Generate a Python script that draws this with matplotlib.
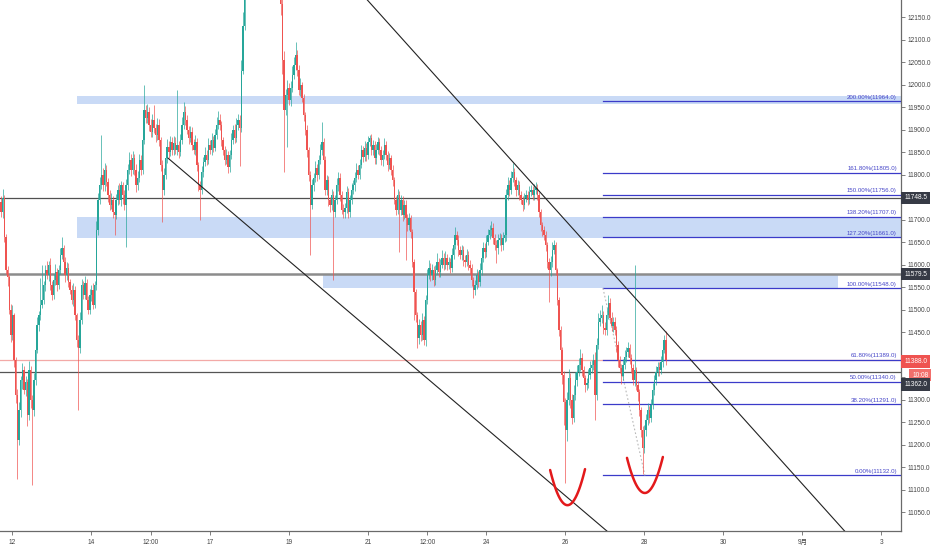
import numpy as np
import matplotlib
matplotlib.use("Agg")
import matplotlib.pyplot as plt
import matplotlib.transforms as mtransforms

plt.rcParams['font.family'] = ['Liberation Sans', 'DejaVu Sans', 'Noto Sans CJK JP']

# ---------------- data (BTC 1h candles, Aug 11 17:00 -> Aug 28 13:00) ----------------
first_open = 11740
closes = [
    11717, 11748, 11662, 11588, 11573, 11500, 11444, 11488, 11388, 11311, 11211, 11277, 11344, 11366, 11322,
    11340, 11266, 11366, 11300, 11277, 11344, 11411, 11466, 11488, 11511, 11522, 11555, 11588, 11577, 11600,
    11555, 11533, 11566, 11584, 11555, 11588, 11622, 11637, 11606, 11577, 11593, 11562, 11544, 11522, 11544,
    11488, 11433, 11415, 11477, 11555, 11533, 11560, 11522, 11500, 11533, 11544, 11511, 11555, 11677, 11744,
    11777, 11800, 11777, 11811, 11784, 11755, 11733, 11744, 11717, 11711, 11744, 11766, 11744, 11777, 11755,
    11733, 11777, 11811, 11833, 11811, 11837, 11811, 11777, 11793, 11833, 11811, 11877, 11944, 11926, 11940,
    11911, 11895, 11922, 11904, 11888, 11911, 11877, 11822, 11766, 11800, 11837, 11862, 11851, 11873, 11855,
    11871, 11855, 11866, 11851, 11877, 11911, 11940, 11922, 11900, 11882, 11895, 11866, 11855, 11873, 11822,
    11777, 11766, 11806, 11828, 11844, 11833, 11866, 11855, 11877, 11860, 11888, 11911, 11922, 11911, 11877,
    11855, 11833, 11844, 11817, 11844, 11877, 11900, 11882, 11911, 11922, 11904, 12031, 12131, 12205, 12260,
    12310, 12290, 12340, 12390, 12360, 12420, 12380, 12340, 12300, 12320, 12280, 12300, 12330, 12290, 12310,
    12270, 12250, 12280, 12240, 12210, 12180, 12055, 11944, 11977, 11993, 11966, 11993, 12022, 12044, 12066,
    12033, 11988, 11999, 11971, 11933, 11900, 11855, 11800, 11733, 11777, 11793, 11815, 11800, 11833, 11855,
    11873, 11833, 11766, 11788, 11744, 11733, 11755, 11717, 11744, 11777, 11793, 11755, 11722, 11717, 11726,
    11762, 11717, 11744, 11766, 11777, 11793, 11811, 11800, 11822, 11855, 11840, 11860, 11844, 11873, 11882,
    11855, 11866, 11837, 11855, 11873, 11855, 11833, 11844, 11866, 11844, 11822, 11837, 11811, 11788, 11744,
    11722, 11755, 11722, 11744, 11711, 11733, 11704, 11688, 11704, 11673, 11606, 11540, 11488, 11437, 11466,
    11444, 11477, 11433, 11522, 11577, 11593, 11577, 11588, 11566, 11588, 11606, 11584, 11600, 11615, 11600,
    11615, 11600, 11606, 11593, 11622, 11644, 11666, 11655, 11633, 11622, 11633, 11611, 11606, 11622, 11600,
    11593, 11566, 11544, 11555, 11577, 11562, 11588, 11615, 11637, 11628, 11651, 11666, 11677, 11682, 11660,
    11644, 11637, 11655, 11660, 11644, 11660, 11666, 11755, 11777, 11766, 11793, 11806, 11788, 11766, 11777,
    11755, 11744, 11733, 11748, 11755, 11744, 11762, 11766, 11755, 11766, 11771, 11755, 11717, 11688, 11677,
    11666, 11644, 11606, 11588, 11606, 11633, 11644, 11588, 11522, 11455, 11411, 11355, 11295, 11233, 11300,
    11348, 11300, 11260, 11311, 11344, 11362, 11377, 11393, 11366, 11348, 11333, 11337, 11355, 11371, 11377,
    11388, 11311, 11422, 11473, 11482, 11488, 11460, 11455, 11488, 11515, 11482, 11464, 11473, 11455, 11422,
    11388, 11371, 11353, 11377, 11395, 11406, 11415, 11393, 11371, 11344, 11366, 11333, 11317, 11277, 11233,
    11193, 11233, 11255, 11277, 11260, 11288, 11322, 11344, 11362, 11373, 11366, 11384, 11411, 11433, 11388,
]
upper_wick = [
    12, 20, 8, 6, 10, 5, 14, 22, 6, 8, 12, 18, 10, 15, 9,
    14, 7, 20, 9, 11, 16, 12, 18, 10, 60, 14, 9, 12, 20, 8,
    15, 10, 13, 18, 9, 12, 16, 20, 8, 11, 14, 10, 7, 12, 15,
    9, 6, 12, 18, 14, 10, 15, 8, 9, 13, 11, 16, 10, 20, 15,
    18, 25, 14, 16, 10, 8, 12, 15, 9, 11, 14, 12, 16, 10, 8,
    11, 14, 12, 18, 13, 15, 10, 12, 16, 14, 11, 20, 15, 12, 18,
    10, 14, 12, 25, 9, 16, 12, 8, 10, 15, 13, 18, 12, 14, 11,
    16, 12, 20, 10, 14, 18, 22, 12, 10, 9, 14, 11, 13, 16, 8,
    6, 10, 14, 12, 18, 11, 15, 12, 16, 10, 14, 18, 20, 12, 9,
    8, 10, 14, 9, 12, 16, 10, 12, 15, 13, 10, 25, 30, 20, 25,
    30, 20, 25, 30, 20, 35, 25, 20, 22, 25, 20, 24, 22, 25, 20,
    22, 25, 20, 24, 22, 18, 10, 20, 14, 18, 12, 15, 20, 18, 14,
    12, 10, 16, 8, 9, 7, 10, 6, 8, 14, 12, 16, 10, 12, 14,
    18, 9, 8, 12, 10, 7, 14, 9, 12, 15, 13, 10, 8, 12, 11,
    14, 9, 12, 15, 11, 13, 16, 10, 14, 12, 9, 15, 11, 14, 10,
    8, 12, 10, 14, 12, 9, 8, 12, 15, 10, 9, 12, 8, 10, 7,
    9, 14, 10, 12, 8, 12, 10, 9, 12, 7, 6, 8, 6, 8, 14,
    10, 16, 9, 12, 14, 18, 10, 13, 9, 12, 20, 10, 14, 18, 12,
    15, 10, 12, 9, 16, 14, 18, 10, 12, 9, 11, 8, 10, 13, 9,
    10, 8, 6, 12, 14, 10, 15, 18, 14, 12, 16, 14, 12, 16, 10,
    8, 12, 14, 10, 9, 12, 16, 14, 18, 12, 16, 20, 10, 8, 12,
    9, 10, 8, 12, 11, 9, 13, 12, 10, 14, 12, 9, 6, 8, 7,
    9, 8, 7, 10, 14, 18, 12, 6, 5, 6, 8, 7, 9, 10, 18,
    20, 12, 14, 22, 18, 15, 16, 20, 10, 9, 8, 12, 14, 16, 12,
    14, 18, 16, 20, 18, 22, 10, 14, 16, 18, 12, 14, 12, 10, 8,
    9, 10, 8, 14, 16, 12, 14, 10, 9, 8, 20, 8, 9, 7, 8,
    8, 12, 14, 16, 10, 14, 16, 12, 14, 12, 10, 14, 18, 11, 20,
]
lower_wick = [
    10, 14, 12, 8, 20, 10, 15, 12, 14, 18, 40, 12, 15, 20, 10,
    14, 25, 10, 18, 60, 12, 10, 8, 12, 10, 8, 10, 14, 9, 12,
    10, 12, 8, 10, 14, 9, 8, 10, 12, 16, 10, 12, 9, 10, 14,
    10, 16, 40, 12, 9, 10, 8, 12, 10, 9, 14, 10, 8, 12, 10,
    10, 9, 14, 12, 10, 16, 12, 10, 14, 30, 10, 12, 9, 14, 20,
    12, 40, 10, 9, 14, 10, 12, 15, 10, 9, 12, 10, 8, 12, 10,
    14, 12, 10, 12, 16, 10, 12, 14, 40, 10, 9, 10, 14, 10, 12,
    10, 9, 12, 14, 10, 8, 9, 12, 10, 14, 10, 12, 9, 10, 14,
    12, 45, 9, 10, 8, 12, 10, 9, 12, 10, 8, 9, 10, 12, 14,
    10, 12, 9, 14, 10, 9, 8, 12, 10, 12, 40, 10, 8, 10, 15,
    20, 18, 15, 20, 22, 18, 20, 25, 18, 20, 22, 18, 20, 15, 18,
    20, 18, 22, 20, 18, 25, 30, 60, 12, 40, 10, 14, 9, 10, 12,
    14, 10, 12, 9, 14, 12, 16, 14, 80, 10, 12, 9, 14, 10, 9,
    10, 14, 12, 10, 14, 16, 12, 120, 10, 9, 12, 14, 10, 12, 14,
    10, 12, 10, 9, 8, 12, 10, 9, 10, 8, 12, 10, 14, 9, 10,
    12, 10, 14, 12, 9, 10, 12, 14, 9, 12, 14, 10, 12, 14, 10,
    12, 10, 30, 12, 14, 10, 60, 12, 10, 14, 10, 40, 15, 30, 12,
    14, 10, 12, 14, 10, 9, 12, 10, 14, 10, 9, 12, 10, 8, 12,
    10, 12, 9, 12, 10, 8, 9, 12, 14, 10, 12, 14, 10, 9, 12,
    14, 12, 20, 10, 9, 12, 8, 10, 9, 12, 10, 8, 9, 12, 14,
    10, 30, 12, 10, 14, 10, 9, 12, 10, 14, 9, 10, 12, 14, 10,
    12, 10, 14, 10, 9, 12, 10, 9, 12, 10, 9, 12, 10, 14, 12,
    10, 14, 12, 60, 12, 10, 9, 10, 12, 14, 18, 20, 50, 120, 25,
    12, 18, 14, 10, 12, 14, 10, 12, 14, 12, 15, 12, 10, 9, 12,
    10, 50, 12, 10, 9, 12, 14, 10, 12, 9, 12, 10, 14, 12, 15,
    14, 12, 18, 10, 9, 12, 10, 14, 12, 10, 14, 12, 20, 14, 15,
    60, 12, 14, 10, 12, 10, 9, 12, 10, 8, 12, 9, 10, 8, 10,
]
high_override = {25: 11600, 37: 11662, 61: 11888, 87: 11999, 93: 11955, 107: 11988,
                 179: 12095, 195: 11917, 224: 11888, 311: 11826, 365: 11511, 385: 11600, 403: 11444}
low_override = {10: 11125, 19: 11111, 47: 11277, 69: 11666, 76: 11640, 98: 11695, 121: 11700,
                145: 11820, 172: 11806, 174: 11862, 188: 11622, 202: 11566, 242: 11628, 246: 11611,
                251: 11477, 253: 11415, 287: 11526, 301: 11604, 333: 11517, 342: 11244, 343: 11115,
                361: 11255, 390: 11135}
first_hour = -7  # first candle: Aug 11 17:00 (hours relative to Aug 12 00:00)

# horizontal levels & fib
h_levels = [11748.5, 11579.5, 11362.0]
last_price = 11388.0
fib_pcts = ["0.00%", "38.20%", "50.00%", "61.80%", "100.00%", "127.20%", "138.20%", "150.00%", "161.80%", "200.00%"]
fib_vals = [11132.0, 11291.0, 11340.0, 11389.0, 11548.0, 11661.0, 11707.0, 11756.0, 11805.0, 11964.0]

x_tick_days = [0, 2, 3.5, 5, 7, 9, 10.5, 12, 14, 16, 18, 20, 22]
x_tick_labels = ["12", "14", "12:00", "17", "19", "21", "12:00", "24", "26", "28", "30", "9月", "3"]

# ---------------- derived OHLC ----------------
closes = np.array(closes, dtype=float)
n = len(closes)
opens = np.concatenate([[first_open], closes[:-1]])
highs = np.maximum(opens, closes) + np.array(upper_wick[:n], dtype=float)
lows = np.minimum(opens, closes) - np.array(lower_wick[:n], dtype=float)
for k, v in high_override.items():
    highs[k] = v
for k, v in low_override.items():
    lows[k] = v
hours = np.arange(n) + first_hour

UP = '#26a69a'
DN = '#ef5350'
cols = np.where(closes >= opens, UP, DN)

# ---------------- figure ----------------
fig = plt.figure(figsize=(9.32, 5.5), dpi=100)
ax = fig.add_axes([0, 19 / 550, 901 / 932, 531 / 550])
XL = (-7.59, 539.9)
YL = (11008.5, 12188.4)
ax.set_xlim(*XL)
ax.set_ylim(*YL)

# zones
ax.fill_between([39.2, XL[1]], 11957, 11975, color='#c9daf6', lw=0, zorder=1)
ax.fill_between([39.2, XL[1]], 11659, 11707, color='#c9daf6', lw=0, zorder=1)
ax.fill_between([188.7, 501.6], 11548, 11578, color='#c9daf6', lw=0, zorder=1)

# horizontal lines
ax.axhline(h_levels[0], color='#505050', lw=0.9, zorder=2)
ax.axhline(h_levels[1], color='#8c8c8c', lw=1.8, zorder=2)
ax.axhline(h_levels[2], color='#555555', lw=0.9, zorder=2)
ax.axhline(last_price, color='#f3a9a7', lw=0.9, zorder=2)

# fib levels
fx0 = 358.8
for p, v in zip(fib_pcts, fib_vals):
    ax.plot([fx0, XL[1]], [v, v], color='#3b3bc9', lw=0.9, zorder=3)
    ax.text(537.4, v + 3, f"{p}({v:.1f})", color='#4545c8', fontsize=4.4,
            ha='right', va='bottom', zorder=6)
ax.plot([fx0, 384.3], [11548, 11132], color='#b8b8b8', lw=0.8, ls=(0, (1.5, 2)), zorder=3)

# candles
ax.vlines(hours, lows, highs, colors=cols, lw=0.65, alpha=0.75, zorder=4)
body_bot = np.minimum(opens, closes)
body_h = np.maximum(np.abs(closes - opens), 1.5)
ax.bar(hours, body_h, bottom=body_bot, width=0.85, color=cols, lw=0, zorder=5)

# trend lines
ax.plot([94.5, 380.0], [11837, 10950], color='#222222', lw=0.8, zorder=6)
ax.plot([214.0, 520.0], [12195, 10950], color='#222222', lw=0.8, zorder=6)

# red U marks
for (x0, y0), (x1, y1), (x2, y2) in [((326.7, 11144), (337.6, 11066), (347.9, 11146)),
                                       ((373.4, 11171), (384.3, 11093), (395.2, 11173))]:
    cf = np.polyfit([x0, x1, x2], [y0, y1, y2], 2)
    xs = np.linspace(x0, x2, 60)
    ax.plot(xs, np.polyval(cf, xs), color='#e3191b', lw=1.8, zorder=7, solid_capstyle='round')

# axes styling
for s in ['top', 'left']:
    ax.spines[s].set_visible(False)
for s in ['right', 'bottom']:
    ax.spines[s].set_color('#6a6a6a')
    ax.spines[s].set_linewidth(0.9)
ax.yaxis.tick_right()
yt = np.arange(11050, 12151, 50)
hidden = {11750, 11400, 11350}
ax.set_yticks(yt)
ax.set_yticklabels(["" if v in hidden else f"{v:.1f}" for v in yt])
ax.set_xticks([d * 24 for d in x_tick_days])
ax.set_xticklabels(x_tick_labels)
ax.tick_params(axis='y', length=3, width=0.6, color='#6a6a6a', labelsize=4.7, labelcolor='#444444', pad=2)
ax.tick_params(axis='x', length=3, width=0.6, color='#6a6a6a', labelsize=4.7, labelcolor='#444444', pad=3)

# price tags on axis
tr = mtransforms.blended_transform_factory(ax.transAxes, ax.transData)
tags = [(11748.5, "11748.5", '#363a45', 1.0035), (11579.5, "11579.5", '#363a45', 1.0035),
        (11385.5, "11388.0", '#ef5350', 1.0035), (11355.0, "10:08", '#f26f6c', 1.0125),
        (11335.0, "11362.0", '#363a45', 1.0035)]
for yv, txt, fc, xa in tags:
    ax.text(xa, yv, txt, transform=tr, fontsize=4.7, color='white', ha='left', va='center',
            bbox=dict(boxstyle='square,pad=0.45', fc=fc, ec='none'), clip_on=False, zorder=8)

fig.savefig("out.png", dpi=100)
